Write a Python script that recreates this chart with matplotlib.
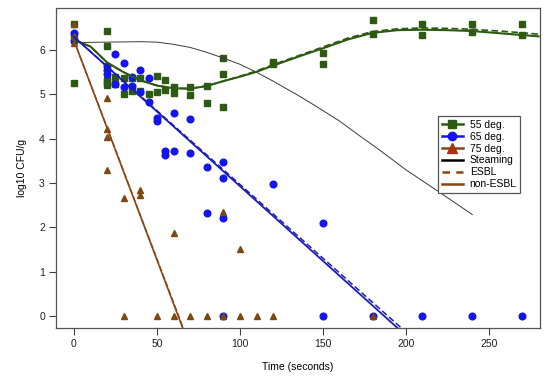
import matplotlib
matplotlib.use("Agg")
import matplotlib.pyplot as plt
from matplotlib.lines import Line2D

plt.rcParams['font.family'] = ['Liberation Sans', 'DejaVu Sans']

# ---- data: 55 deg (squares)
t55 = [0, 0, 0, 20, 20, 20, 20, 20, 25, 25, 30, 30, 35, 35, 40, 40, 45, 50, 50, 55, 55,
       60, 60, 70, 70, 80, 80, 90, 90, 90, 120, 120, 150, 150, 180, 180, 210, 210,
       240, 240, 270, 270]
y55 = [6.58, 6.30, 5.26, 6.42, 6.10, 5.33, 5.27, 5.22, 5.39, 5.23, 5.38, 5.02, 5.38, 5.08,
       5.38, 5.08, 5.02, 5.41, 5.06, 5.33, 5.11, 5.16, 5.03, 5.16, 4.99, 5.18, 4.81,
       5.82, 5.47, 4.72, 5.73, 5.68, 5.93, 5.69, 6.68, 6.37, 6.59, 6.34, 6.59, 6.40,
       6.59, 6.33]

# ---- 65 deg (circles)
t65 = [0, 0, 20, 20, 20, 25, 25, 30, 30, 35, 35, 40, 40, 45, 45, 50, 50, 55, 55, 60, 60,
       70, 70, 80, 80, 90, 90, 90, 90, 120, 150, 150, 180, 210, 240, 270]
y65 = [6.38, 6.20, 5.65, 5.55, 5.45, 5.91, 5.24, 5.71, 5.16, 5.39, 5.18, 5.56, 5.05,
       5.36, 4.84, 4.47, 4.39, 3.72, 3.64, 4.58, 3.73, 4.45, 3.68, 3.36, 2.33, 3.47,
       3.12, 2.22, 0, 2.97, 2.09, 0, 0, 0, 0, 0]

# ---- 75 deg (triangles)
t75 = [0, 0, 0, 20, 20, 20, 20, 30, 30, 40, 40, 50, 60, 60, 70, 80, 90, 90, 100, 100,
       110, 120, 180]
y75 = [6.58, 6.31, 6.16, 4.92, 4.22, 4.03, 3.29, 2.67, 0, 2.84, 2.74, 0, 1.88, 0, 0, 0,
       2.34, 0, 1.52, 0, 0, 0, 0]

# ---- fitted curves
steam_t = [0, 20, 40, 50, 60, 70, 80, 90, 100, 110, 120, 135, 146, 160, 172, 184, 200, 218, 240]
steam_y = [6.17, 6.18, 6.19, 6.18, 6.13, 6.06, 5.95, 5.82, 5.68, 5.50, 5.30, 4.98, 4.73,
           4.40, 4.07, 3.75, 3.30, 2.85, 2.29]

g_t = [0, 10, 20, 30, 40, 50, 60, 70, 80, 90, 100, 110, 120, 135, 150, 165, 180, 195,
       210, 225, 240, 260, 280]
g_non = [6.23, 6.08, 5.72, 5.50, 5.32, 5.20, 5.14, 5.13, 5.19, 5.30, 5.40, 5.51, 5.65,
         5.85, 6.04, 6.24, 6.39, 6.45, 6.46, 6.45, 6.43, 6.37, 6.31]
g_esbl = [6.23, 6.08, 5.72, 5.50, 5.32, 5.20, 5.14, 5.13, 5.19, 5.30, 5.41, 5.53, 5.67,
          5.87, 6.07, 6.27, 6.42, 6.48, 6.50, 6.49, 6.47, 6.42, 6.36]

b_t = [0, 200]
b_non = [6.30, -0.44]
b_esbl = [6.30, -0.36]

r_t = [0, 70]
r_non = [6.22, -0.71]
r_esbl = [6.22, -0.68]

labels = ["55 deg.", "65 deg.", "75 deg.", "Steaming", "ESBL", "non-ESBL"]
xticks = [0, 50, 100, 150, 200, 250]
yticks = [0, 1, 2, 3, 4, 5, 6]

c_green = "#2D5A12"
c_blue = "#1414EE"
c_bline = "#1C1CB8"
c_tri = "#7A4A12"
c_brown = "#8B4513"

fig = plt.figure(figsize=(5.5, 3.86), dpi=100)
ax = fig.add_axes([56/550, 58/386, 484/550, 320/386])

ax.plot(t55, y55, ls='none', marker='s', ms=4.2, color=c_green, mec=c_green)
ax.plot(t65, y65, ls='none', marker='o', ms=4.8, color=c_blue, mec=c_blue)
ax.plot(t75, y75, ls='none', marker='^', ms=4.6, color=c_tri, mec=c_tri)

ax.plot(steam_t, steam_y, color="#3a3a3a", lw=0.7)
ax.plot(g_t, g_non, color=c_green, lw=1.5)
ax.plot(g_t, g_esbl, color=c_green, lw=1.2, ls=(0, (4, 2)))
ax.plot(b_t, b_non, color=c_bline, lw=1.3)
ax.plot(b_t, b_esbl, color=c_bline, lw=1.1, ls=(0, (4, 2)))
ax.plot(r_t, r_non, color=c_brown, lw=1.2)
ax.plot(r_t, r_esbl, color=c_brown, lw=1.0, ls=(0, (4, 2)))

ax.set_xlim(-10.8, 280.8)
ax.set_ylim(-0.27, 6.95)
ax.set_xticks(xticks)
ax.set_yticks(yticks)
ax.tick_params(axis='both', direction='out', length=5, width=0.8, colors="#404040",
               labelsize=7.5, labelcolor="#202020", pad=3)
for s in ax.spines.values():
    s.set_color("#555555")
    s.set_linewidth(0.9)
ax.set_xlabel("Time (seconds)", fontsize=7.5, labelpad=9)
ax.set_ylabel("log10 CFU/g", fontsize=7.5, labelpad=9)

handles = [
    Line2D([], [], color=c_green, lw=1.8, marker='s', ms=6, mfc=c_green, mec=c_green),
    Line2D([], [], color=c_blue, lw=1.8, marker='o', ms=6, mfc=c_blue, mec=c_blue),
    Line2D([], [], color=c_brown, lw=1.8, marker='^', ms=6.5, mfc="#A83214", mec="#A83214"),
    Line2D([], [], color="black", lw=1.8),
    Line2D([], [], color=c_brown, lw=1.8, ls=(0, (3, 2.5))),
    Line2D([], [], color=c_brown, lw=1.8),
]
leg = ax.legend(handles, labels, loc='upper left', bbox_to_anchor=(0.789, 0.662),
                fontsize=7.5, frameon=True, fancybox=False, edgecolor="#555555",
                framealpha=1, handlelength=2.1, handletextpad=0.6, labelspacing=0.18,
                borderpad=0.35, borderaxespad=0)
leg.get_frame().set_linewidth(0.9)

fig.savefig("out.png", dpi=100)
